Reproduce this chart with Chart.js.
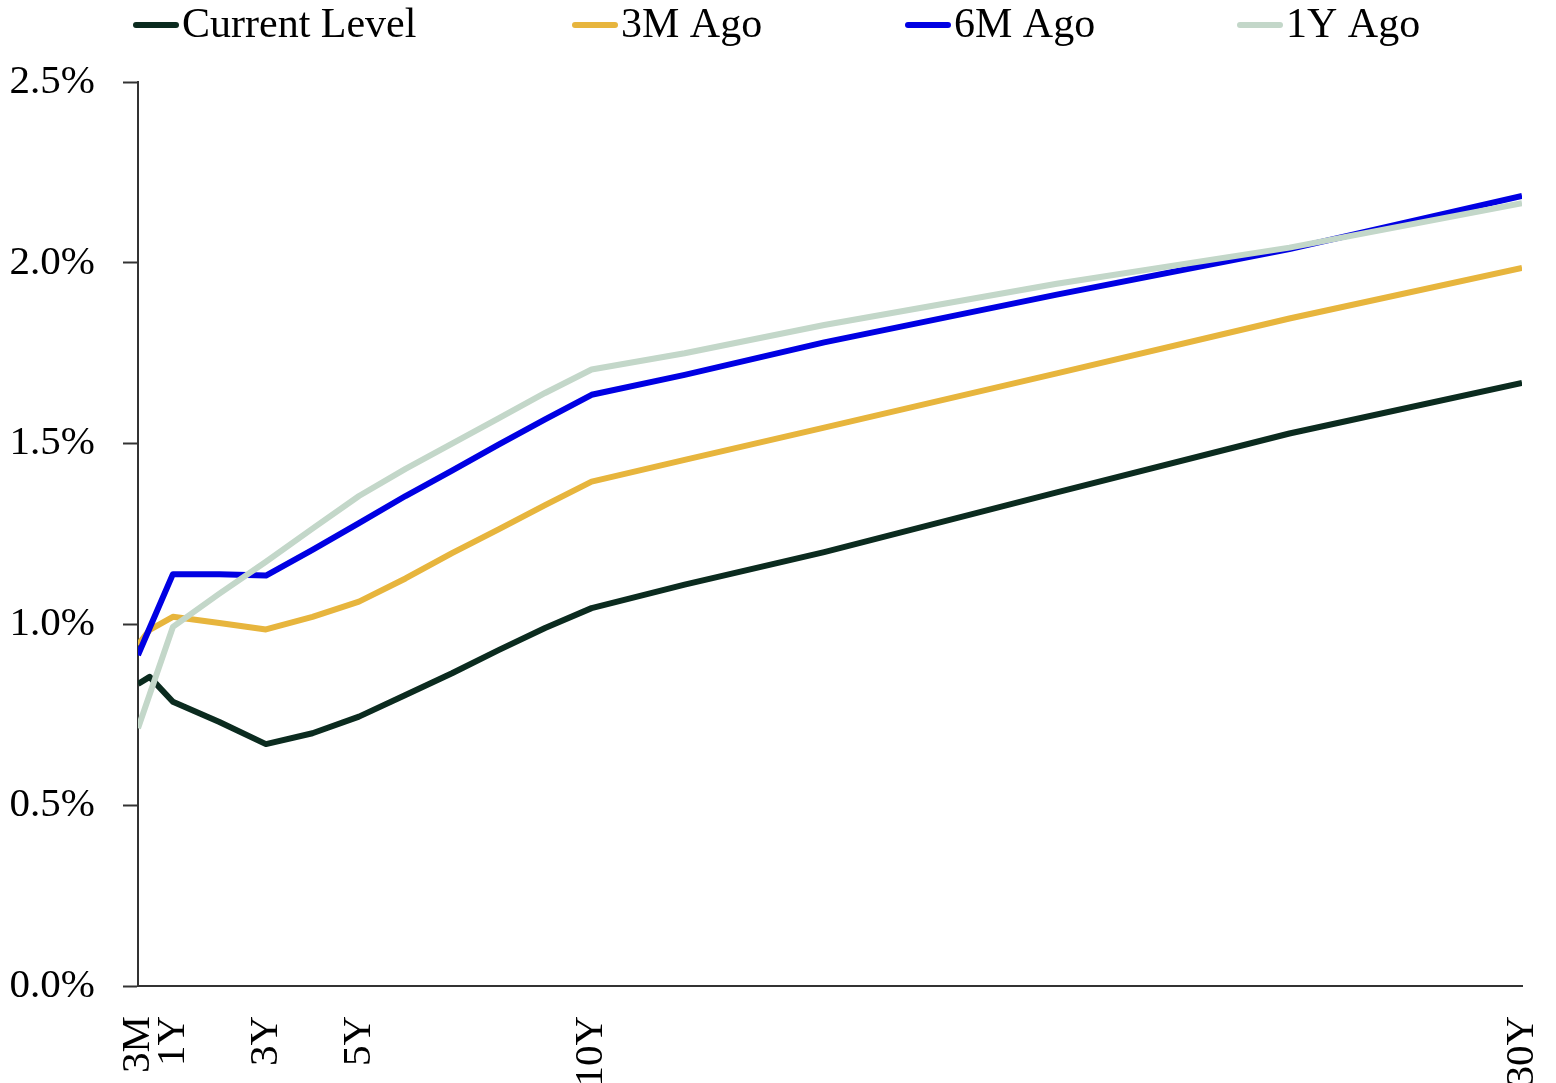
<!DOCTYPE html>
<html>
    <head>
        <meta charset="UTF-8">
        <title>Yield curve</title>
        <style>
            body { margin: 0; background: #fff; }
        </style>
    </head>
    <body>
        <canvas id="curveChart" width="1556" height="1083"></canvas>

        <script src="https://cdn.jsdelivr.net/npm/chart.js"></script>
        <script>
            // tenors in years
            const tenors = [0.25, 0.5, 1, 2, 3, 4, 5, 6, 7, 8, 9, 10, 12, 15, 20, 25, 30];
            const tickValues = [0.25, 1, 3, 5, 10, 30];
            const tickLabels = ['3M', '1Y', '3Y', '5Y', '10Y', '30Y'];

            const seriesNames = ['Current Level', '3M Ago', '6M Ago', '1Y Ago'];
            const currentLevel = [0.835, 0.855, 0.786, 0.73, 0.669, 0.699, 0.745, 0.805, 0.865, 0.929, 0.99, 1.045, 1.11, 1.2, 1.365, 1.528, 1.668];
            const threeMAgo = [0.943, 0.985, 1.021, 1.004, 0.986, 1.021, 1.063, 1.127, 1.197, 1.263, 1.33, 1.395, 1.455, 1.544, 1.694, 1.846, 1.986];
            const sixMAgo = [0.915, 0.99, 1.139, 1.139, 1.135, 1.206, 1.28, 1.355, 1.425, 1.497, 1.567, 1.635, 1.69, 1.78, 1.912, 2.038, 2.185];
            const oneYAgo = [0.713, 0.806, 0.993, 1.085, 1.173, 1.265, 1.355, 1.43, 1.5, 1.57, 1.64, 1.705, 1.75, 1.828, 1.942, 2.042, 2.165];

            const colors = ['#0b2b1f', '#e7b53d', '#0000e3', '#c3d7c9'];
            const fontFamily = '"Liberation Serif", "Times New Roman", serif';

            function toPoints(values) {
                return values.map((v, i) => ({ x: tenors[i], y: v }));
            }

            // legend drawn by hand so the line sample sits right next to the text
            const legendStarts = [133, 572, 905, 1237];
            const lineLegend = {
                id: 'lineLegend',
                afterDraw(chart) {
                    const ctx = chart.ctx;
                    const sample = 46, y = 25;
                    ctx.save();
                    ctx.font = '42px ' + fontFamily;
                    seriesNames.forEach((name, i) => {
                        let x = legendStarts[i];
                        ctx.strokeStyle = colors[i];
                        ctx.lineWidth = 6;
                        ctx.lineCap = 'round';
                        ctx.beginPath();
                        ctx.moveTo(x + 3, y);
                        ctx.lineTo(x + sample - 3, y);
                        ctx.stroke();
                        ctx.fillStyle = '#000';
                        ctx.textBaseline = 'middle';
                        ctx.fillText(name, x + sample + 3, y + 1);
                    });
                    ctx.restore();
                }
            };

            const allSeries = [currentLevel, threeMAgo, sixMAgo, oneYAgo];
            const drawOrder = [2, 4, 3, 1];

            new Chart(document.getElementById('curveChart'), {
                type: 'line',
                data: {
                    datasets: allSeries.map((values, i) => ({
                        label: seriesNames[i],
                        data: toPoints(values),
                        borderColor: colors[i],
                        backgroundColor: colors[i],
                        borderWidth: 6,
                        borderJoinStyle: 'round',
                        pointRadius: 0,
                        tension: 0,
                        order: drawOrder[i]
                    }))
                },
                options: {
                    responsive: false,
                    animation: false,
                    layout: {
                        padding: { top: 82, left: 0, right: 34, bottom: 0 }
                    },
                    plugins: {
                        legend: { display: false },
                        tooltip: { enabled: false }
                    },
                    scales: {
                        x: {
                            type: 'linear',
                            min: 0.25,
                            max: 30,
                            afterBuildTicks: (scale) => {
                                scale.ticks = tickValues.map(v => ({ value: v }));
                            },
                            afterFit: (scale) => {
                                scale.height = 97;
                                scale.paddingLeft = 0;
                                scale.paddingRight = 0;
                            },
                            grid: { display: false, drawTicks: false },
                            border: { color: '#333', width: 2 },
                            ticks: {
                                autoSkip: false,
                                minRotation: 90,
                                maxRotation: 90,
                                padding: 30,
                                color: '#000',
                                font: { family: fontFamily, size: 41 },
                                callback: (value) => {
                                    let i = tickValues.indexOf(value);
                                    return i >= 0 ? tickLabels[i] : '';
                                }
                            }
                        },
                        y: {
                            min: 0,
                            max: 2.5,
                            afterFit: (scale) => {
                                scale.width = 138;
                                scale.paddingTop = 0;
                                scale.paddingBottom = 0;
                            },
                            grid: {
                                drawOnChartArea: false,
                                drawTicks: true,
                                tickLength: 15,
                                tickWidth: 2,
                                tickColor: '#333'
                            },
                            border: { color: '#333', width: 2 },
                            ticks: {
                                stepSize: 0.5,
                                padding: 28,
                                color: '#000',
                                font: { family: fontFamily, size: 41 },
                                callback: (value) => value.toFixed(1) + '%'
                            }
                        }
                    }
                },
                plugins: [lineLegend]
            });
        </script>
    </body>
</html>
